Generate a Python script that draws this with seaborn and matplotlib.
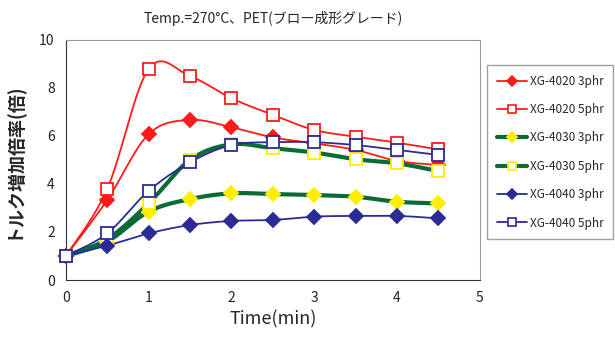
import numpy as np
import pandas as pd
import matplotlib
matplotlib.use("Agg")
import matplotlib.pyplot as plt
from matplotlib.lines import Line2D
import seaborn as sns

# Data
time = [0, 0.5, 1, 1.5, 2, 2.5, 3, 3.5, 4, 4.5]
xg4020_3 = [1.0, 3.33, 6.07, 6.67, 6.36, 5.94, 5.69, 5.42, 4.96, 4.79]
xg4020_5 = [1.0, 3.79, 8.79, 8.49, 7.57, 6.88, 6.25, 5.97, 5.72, 5.44]
xg4030_3 = [1.0, 1.60, 2.85, 3.37, 3.61, 3.58, 3.54, 3.47, 3.26, 3.19]
xg4030_5 = [1.0, 1.70, 3.19, 5.00, 5.65, 5.49, 5.31, 5.03, 4.86, 4.54]
xg4040_3 = [1.0, 1.43, 1.94, 2.29, 2.46, 2.50, 2.64, 2.67, 2.67, 2.57]
xg4040_5 = [1.0, 1.94, 3.71, 4.90, 5.62, 5.74, 5.74, 5.62, 5.42, 5.21]
labels = ["XG-4020 3phr", "XG-4020 5phr", "XG-4030 3phr",
          "XG-4030 5phr", "XG-4040 3phr", "XG-4040 5phr"]
values = [xg4020_3, xg4020_5, xg4030_3, xg4030_5, xg4040_3, xg4040_5]

RED, GREEN, YELLOW, BLUE = "#ff1a1a", "#0b6b35", "#ffee00", "#2b2b96"
styles = [
    dict(color=RED, lw=1.3, marker="D", mfc=RED, mec=RED, ms=7),
    dict(color=RED, lw=1.3, marker="s", mfc="white", mec=RED, ms=8),
    dict(color=GREEN, lw=3.0, marker="D", mfc=YELLOW, mec=YELLOW, ms=7),
    dict(color=GREEN, lw=3.0, marker="s", mfc="white", mec=YELLOW, ms=8),
    dict(color=BLUE, lw=1.3, marker="D", mfc=BLUE, mec=BLUE, ms=7),
    dict(color=BLUE, lw=1.3, marker="s", mfc="white", mec=BLUE, ms=8),
]

rows = []
for lab, vals in zip(labels, values):
    for t, v in zip(time, vals):
        rows.append({"time": t, "ratio": v, "series": lab})
df = pd.DataFrame(rows)


def smooth(x, y, n=30):
    # Excel-style smoothed line (Catmull-Rom bezier), for drawing only
    x = np.asarray(x, float); y = np.asarray(y, float)
    px = np.concatenate([[x[0]], x, [x[-1]]])
    py = np.concatenate([[y[0]], y, [y[-1]]])
    xs, ys = [], []
    s = np.linspace(0, 1, n)
    for i in range(1, len(px) - 2):
        p0, p1, p2, p3 = [np.array([px[j], py[j]]) for j in (i - 1, i, i + 1, i + 2)]
        c1 = p1 + (p2 - p0) / 6
        c2 = p2 - (p3 - p1) / 6
        pts = ((1 - s) ** 3)[:, None] * p1 + (3 * (1 - s) ** 2 * s)[:, None] * c1 \
            + (3 * (1 - s) * s ** 2)[:, None] * c2 + (s ** 3)[:, None] * p2
        xs.extend(pts[:, 0]); ys.extend(pts[:, 1])
    return np.array(xs), np.array(ys)


sns.set_style("white")
plt.rcParams['font.family'] = ['Noto Sans CJK JP', 'DejaVu Sans']

fig = plt.figure(figsize=(6.15, 3.44), dpi=100)
ax = fig.add_axes([0.107, 0.186, 0.673, 0.698])

handles = []
for lab, st in zip(labels, styles):
    sub = df[df["series"] == lab]
    sx, sy = smooth(sub["time"], sub["ratio"])
    sns.lineplot(x=sx, y=sy, ax=ax, color=st["color"], lw=st["lw"],
                 sort=False, estimator=None, legend=False)
    ax.plot(sub["time"], sub["ratio"], ls="none", marker=st["marker"],
            mfc=st["mfc"], mec=st["mec"], ms=st["ms"], mew=1.3, zorder=3,
            clip_on=False)
    handles.append(Line2D([], [], color=st["color"], lw=st["lw"],
                          marker=st["marker"], mfc=st["mfc"], mec=st["mec"],
                          ms=st["ms"] - 2, mew=1.2))

ax.set_xlim(0, 5)
ax.set_ylim(0, 10)
ax.set_xticks(range(0, 6))
ax.set_yticks(range(0, 11, 2))
ax.tick_params(direction="in", length=4, labelsize=10, colors="#222222", pad=8)
for side in ["left", "bottom"]:
    ax.spines[side].set_color("#333333")
for side in ["top", "right"]:
    ax.spines[side].set_color("#999999")

ax.set_xlabel("Time(min)", fontsize=13)
ax.set_ylabel("トルク増加倍率(倍)", fontsize=13, fontweight="bold", labelpad=12)
ax.set_title("Temp.=270°C、PET(ブロー成形グレード)", fontsize=10, pad=12)

leg = fig.legend(handles, labels, loc="upper left",
                 bbox_to_anchor=(0.792, 0.81), fontsize=8.5, frameon=True,
                 fancybox=False, edgecolor="#888888", handlelength=2.6,
                 labelspacing=1.3, borderpad=0.8, handletextpad=0.2,
                 borderaxespad=0)

fig.savefig("out.png", dpi=100)
